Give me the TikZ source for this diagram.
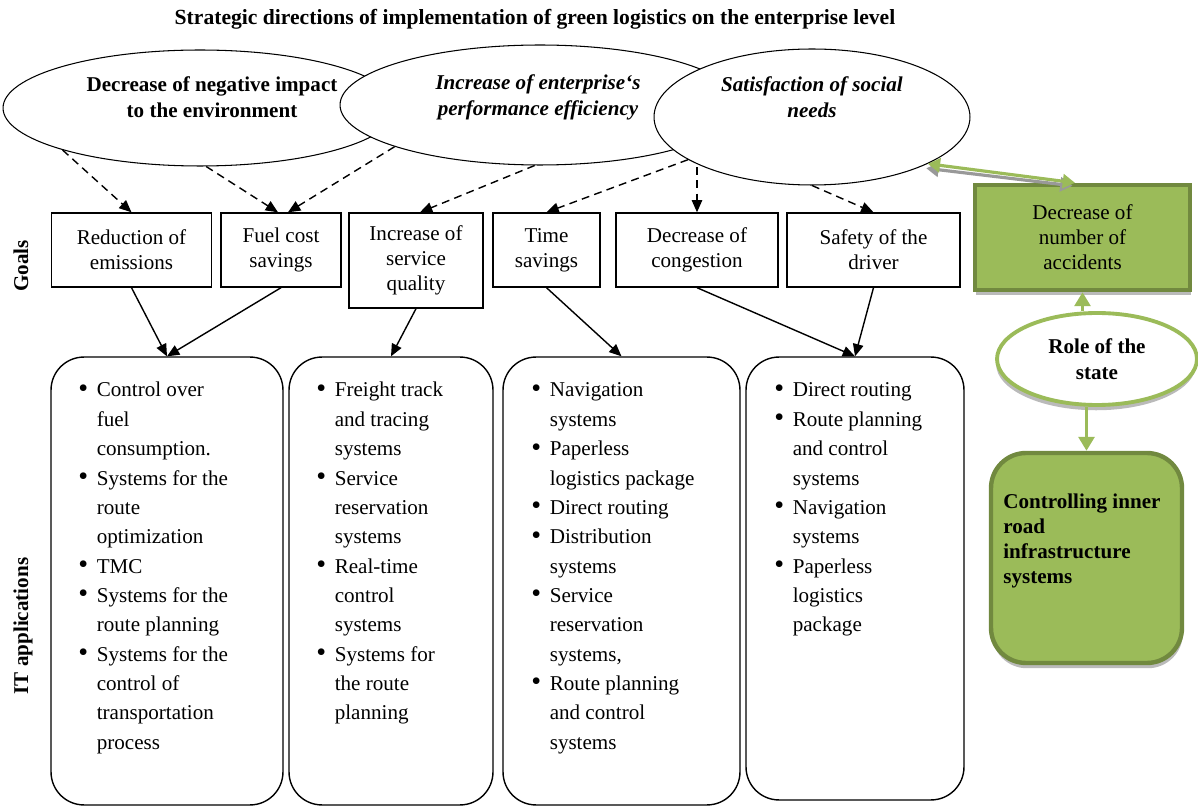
\documentclass[tikz,border=0pt]{standalone}
\usepackage{fontspec}
\setmainfont{Liberation Serif}
\usetikzlibrary{shapes.geometric,arrows.meta,shadows}
\definecolor{olive}{HTML}{9BBB59}
\definecolor{olivedark}{HTML}{71893F}
\newcommand{\itlist}[1]{\begin{tabular}[t]{@{}p{10.5pt}@{}l@{}}#1\end{tabular}}
\newcommand{\bul}{\raisebox{-0.3pt}{\fontsize{16}{16}\selectfont\textbullet}}
\tikzset{
  bigell/.style={draw, ellipse, fill=white, line width=0.6pt, inner sep=0pt},
  elltext/.style={align=center, inner sep=0pt},
  goalbox/.style={draw, line width=0.8pt, minimum height=1.48cm, inner sep=0pt, align=center, font=\fontsize{12}{14.2}\selectfont},
  itbox/.style={draw, line width=0.8pt, rounded corners=0.66cm, minimum height=8.96cm},
  itlist/.style={inner sep=0pt, anchor=base west, font=\fontsize{12}{16.7}\selectfont},
  sidelabel/.style={rotate=90, inner sep=0pt, font=\fontsize{12}{14}\selectfont\bfseries},
  dasharrow/.style={line width=0.8pt, dash pattern=on 4.5pt off 3pt, -{Triangle[length=7pt,width=6pt]}},
  solidarrow/.style={line width=0.8pt, -{Triangle[length=7pt,width=6pt]}},
  greenbox/.style={draw=olivedark, fill=olive, line width=2.5pt, drop shadow={shadow xshift=0.5pt, shadow yshift=-3pt, fill=black!45, opacity=0.6}},
  greenarrow/.style={draw=olive, line width=2.2pt, -{Triangle[length=8pt,width=9pt]}}
}
\begin{document}
\begin{tikzpicture}[x=0.02cm, y=-0.02cm]
%%%%% START %%%%%
\useasboundingbox (0,0) rectangle (1198,807);

\node[inner sep=0pt, font=\fontsize{12.3}{14}\selectfont\bfseries] (title) at (535,19) {Strategic directions of implementation of green logistics on the enterprise level};

\node[bigell, minimum width=7.88cm, minimum height=2.32cm] (e1) at (200,108) {};
\node[bigell, minimum width=8cm, minimum height=2.4cm] (e2) at (540,105) {};
\node[bigell, minimum width=6.32cm, minimum height=2.72cm] (e3) at (812,117) {};
\node[elltext, font=\fontsize{12}{14.7}\selectfont\bfseries] (e1t) at (212,97) {Decrease of negative impact\\to the environment};
\node[elltext, font=\fontsize{12}{14.7}\selectfont\bfseries\itshape] (e2t) at (538,97) {Increase of enterprise‘s\\performance efficiency};
\node[elltext, font=\fontsize{12}{14.7}\selectfont\bfseries\itshape] (e3t) at (812,97) {Satisfaction of social\\needs};

\node[sidelabel] (goals) at (21,266) {Goals};
\node[sidelabel] (itapp) at (23,626) {IT applications};

\node[goalbox, minimum width=3.2cm] (g1) at (131.5,250) {Reduction of\\emissions};
\node[goalbox, minimum width=2.4cm] (g2) at (281,250) {Fuel cost\\savings};
\node[goalbox, minimum width=2.68cm, minimum height=1.9cm] (g3) at (416,260.5) {Increase of\\service\\quality};
\node[goalbox, minimum width=2.14cm] (g4) at (546.5,250) {Time\\savings};
\node[goalbox, minimum width=3.24cm] (g5) at (697,250) {Decrease of\\congestion};
\node[goalbox, minimum width=3.46cm] (g6) at (873.5,250) {Safety of the\\driver};

\draw[dasharrow] (e1.197) -- (g1.north);
\draw[dasharrow] (e1.-84) -- ([xshift=-0.06cm]g2.north);
\draw[dasharrow] (e2.196) -- ([xshift=0.14cm]g2.north);
\draw[dasharrow] (e2.265) -- ([xshift=0.08cm]g3.north);
\draw[dasharrow] (e3.199) -- (g4.north);
\draw[dasharrow] (e3.205 -| g5.north) -- (g5.north);
\draw[dasharrow] (e3.south) -- (g6.north);

\node[itbox, minimum width=4.64cm] (it1) at (167,581) {};
\node[itbox, minimum width=4.08cm] (it2) at (391,581) {};
\node[itbox, minimum width=4.74cm] (it3) at (621.5,581) {};
\node[itbox, minimum width=4.36cm, minimum height=8.86cm] (it4) at (855,578.5) {};

\node[itlist] (it1t) at (78,397) {\itlist{
\bul & Control over\\ & fuel\\ & consumption.\\
\bul & Systems for the\\ & route\\ & optimization\\
\bul & TMC\\
\bul & Systems for the\\ & route planning\\
\bul & Systems for the\\ & control of\\ & transportation\\ & process}};
\node[itlist] (it2t) at (316,397) {\itlist{
\bul & Freight track\\ & and tracing\\ & systems\\
\bul & Service\\ & reservation\\ & systems\\
\bul & Real-time\\ & control\\ & systems\\
\bul & Systems for\\ & the route\\ & planning}};
\node[itlist] (it3t) at (531,397) {\itlist{
\bul & Navigation\\ & systems\\
\bul & Paperless\\ & logistics package\\
\bul & Direct routing\\
\bul & Distribution\\ & systems\\
\bul & Service\\ & reservation\\ & systems,\\
\bul & Route planning\\ & and control\\ & systems}};
\node[itlist] (it4t) at (774,397) {\itlist{
\bul & Direct routing\\
\bul & Route planning\\ & and control\\ & systems\\
\bul & Navigation\\ & systems\\
\bul & Paperless\\ & logistics\\ & package}};

\draw[solidarrow] (g1.south) -- (it1.north);
\draw[solidarrow] (g2.south) -- (it1.north);
\draw[solidarrow] (g3.south) -- (it2.north);
\draw[solidarrow] (g4.south) -- (it3.north);
\draw[solidarrow] (g5.south) -- (it4.north);
\draw[solidarrow] (g6.south) -- (it4.north);

\node[greenbox, minimum width=4.3cm, minimum height=2.1cm, align=center, font=\fontsize{12}{14.2}\selectfont] (acc) at (1082.5,237.5) {Decrease of\\number of\\accidents};
\node[draw=olive, fill=white, ellipse, line width=2.2pt, minimum width=4cm, minimum height=1.84cm, inner sep=0pt, align=center, font=\fontsize{12}{14.7}\selectfont\bfseries, drop shadow={shadow xshift=-0.5pt, shadow yshift=-3pt, fill=black!45, opacity=0.6}] (role) at (1097,359) {Role of the\\state};
\node[greenbox, rounded corners=0.7cm, minimum width=3.82cm, minimum height=4.2cm] (ctrl) at (1086.5,558) {};
\node[itlist, font=\fontsize{12}{14.2}\selectfont\bfseries] (ctrlt) at (1003,509) {\begin{tabular}[t]{@{}l@{}}Controlling inner\\road\\infrastructure\\systems\end{tabular}};

\draw[draw=black!40, line width=1.8pt, {Triangle[length=7pt,width=8pt]}-{Triangle[length=7pt,width=8pt]}] ([shift={(-0.03cm,-0.09cm)}]e3.-22) -- ([shift={(-0.2cm,-0.06cm)}]acc.north);
\draw[draw=olive, line width=1.8pt, {Triangle[length=7pt,width=8pt]}-{Triangle[length=7pt,width=8pt]}] (e3.-22) -- ([xshift=-0.15cm]acc.north);
\draw[greenarrow] (role.north -| acc.south) -- (acc.south);
\draw[greenarrow] (role.south -| ctrl.north) -- (ctrl.north);

%%%%% END %%%%%
\end{tikzpicture}
\end{document}
